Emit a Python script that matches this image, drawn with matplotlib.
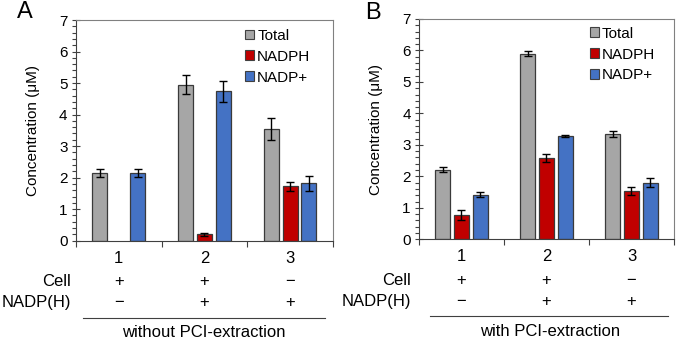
import matplotlib.pyplot as plt
from matplotlib.ticker import MultipleLocator
from matplotlib.patches import Patch
import numpy as np

plt.rcParams["font.family"] = ["Liberation Sans", "DejaVu Sans"]

groups = [1, 2, 3]
series = ["Total", "NADPH", "NADP+"]
colors = ["#A6A6A6", "#C00000", "#4472C4"]
cell = ["+", "+", "\u2212"]
nadph_label = ["\u2212", "+", "+"]

# panel A: without PCI-extraction (no NADPH value for sample 1)
a_total = [2.15, 4.94, 3.55]
a_total_err = [0.12, 0.30, 0.35]
a_nadph = [np.nan, 0.20, 1.72]
a_nadph_err = [np.nan, 0.04, 0.14]
a_nadp = [2.15, 4.74, 1.82]
a_nadp_err = [0.12, 0.33, 0.23]

# panel B: with PCI-extraction
b_total = [2.21, 5.90, 3.35]
b_total_err = [0.08, 0.09, 0.10]
b_nadph = [0.78, 2.58, 1.54]
b_nadph_err = [0.16, 0.12, 0.12]
b_nadp = [1.41, 3.29, 1.80]
b_nadp_err = [0.08, 0.03, 0.14]


def panel(ax, vals, errs, letter, title, leg_xy, cell_x, line_x, title_x, letter_xy):
    x = np.array(groups, dtype=float)
    offs = [-0.22, 0.0, 0.22]
    for v, e, c, o, name in zip(vals, errs, colors, offs, series):
        ax.bar(x + o, v, width=0.175, color=c, edgecolor="#3a3a3a", linewidth=0.9,
               label=name, zorder=2)
        ax.errorbar(x + o, v, yerr=e, fmt="none", ecolor="black", elinewidth=1,
                    capsize=3, capthick=1, zorder=3)

    ax.set_xlim(0.5, 3.5)
    ax.set_ylim(0, 7)
    ax.yaxis.set_major_locator(MultipleLocator(1))
    ax.yaxis.set_minor_locator(MultipleLocator(0.2))
    ax.tick_params(axis="y", which="major", direction="inout", length=6,
                   width=0.8, color="#404040", labelsize=11, pad=3)
    ax.tick_params(axis="y", which="minor", direction="out", length=3,
                   width=0.8, color="#404040")
    ax.set_xticks([0.5, 1.5, 2.5, 3.5])
    ax.set_xticklabels([])
    ax.tick_params(axis="x", direction="out", length=4, width=0.8, color="#404040")
    for s in ["left", "bottom"]:
        ax.spines[s].set_color("#404040")
        ax.spines[s].set_linewidth(0.8)
    for s in ["top", "right"]:
        ax.spines[s].set_color("#808080")
        ax.spines[s].set_linewidth(0.8)

    ax.set_ylabel("Concentration (\u03bcM)", fontsize=11)
    ax.yaxis.set_label_coords(-0.14, 0.5)

    handles = [Patch(facecolor=c, edgecolor="#404040", linewidth=0.8) for c in colors]
    ax.legend(handles, series, loc="upper left", bbox_to_anchor=leg_xy,
              frameon=False, fontsize=11, handlelength=0.6, handleheight=0.6,
              handletextpad=0.2, labelspacing=0.45, borderpad=0, borderaxespad=0)

    tr = ax.get_xaxis_transform()
    for g, c1, c2 in zip(groups, cell, nadph_label):
        ax.text(g, -0.08, str(g), transform=tr, ha="center", va="center", fontsize=12)
        ax.text(g, -0.187, c1, transform=tr, ha="center", va="center", fontsize=12)
        ax.text(g, -0.282, c2, transform=tr, ha="center", va="center", fontsize=12)
    ax.text(cell_x, -0.187, "Cell", transform=tr, ha="right", va="center", fontsize=12)
    ax.text(cell_x, -0.282, "NADP(H)", transform=tr, ha="right", va="center",
            fontsize=12)
    ax.plot(line_x, [-0.35, -0.35], transform=tr, color="#404040", lw=0.8,
            clip_on=False)
    ax.text(title_x, -0.418, title, transform=tr, ha="center", va="center",
            fontsize=12)
    ax.text(letter_xy[0], letter_xy[1], letter, transform=ax.transAxes,
            ha="center", va="center", fontsize=17)


fig = plt.figure(figsize=(6.78, 3.39), dpi=100)
ax1 = fig.add_axes([0.112, 0.29, 0.379, 0.651])
ax2 = fig.add_axes([0.618, 0.294, 0.376, 0.65])

panel(ax1, [a_total, a_nadph, a_nadp], [a_total_err, a_nadph_err, a_nadp_err],
      "A", "without PCI-extraction", (0.658, 0.96), 0.44, [0.58, 3.41], 1.99,
      (-0.2, 1.034))
panel(ax2, [b_total, b_nadph, b_nadp], [b_total_err, b_nadph_err, b_nadp_err],
      "B", "with PCI-extraction", (0.67, 0.965), 0.41, [0.63, 3.43], 2.04,
      (-0.18, 1.025))

fig.savefig("out.png", dpi=100)
